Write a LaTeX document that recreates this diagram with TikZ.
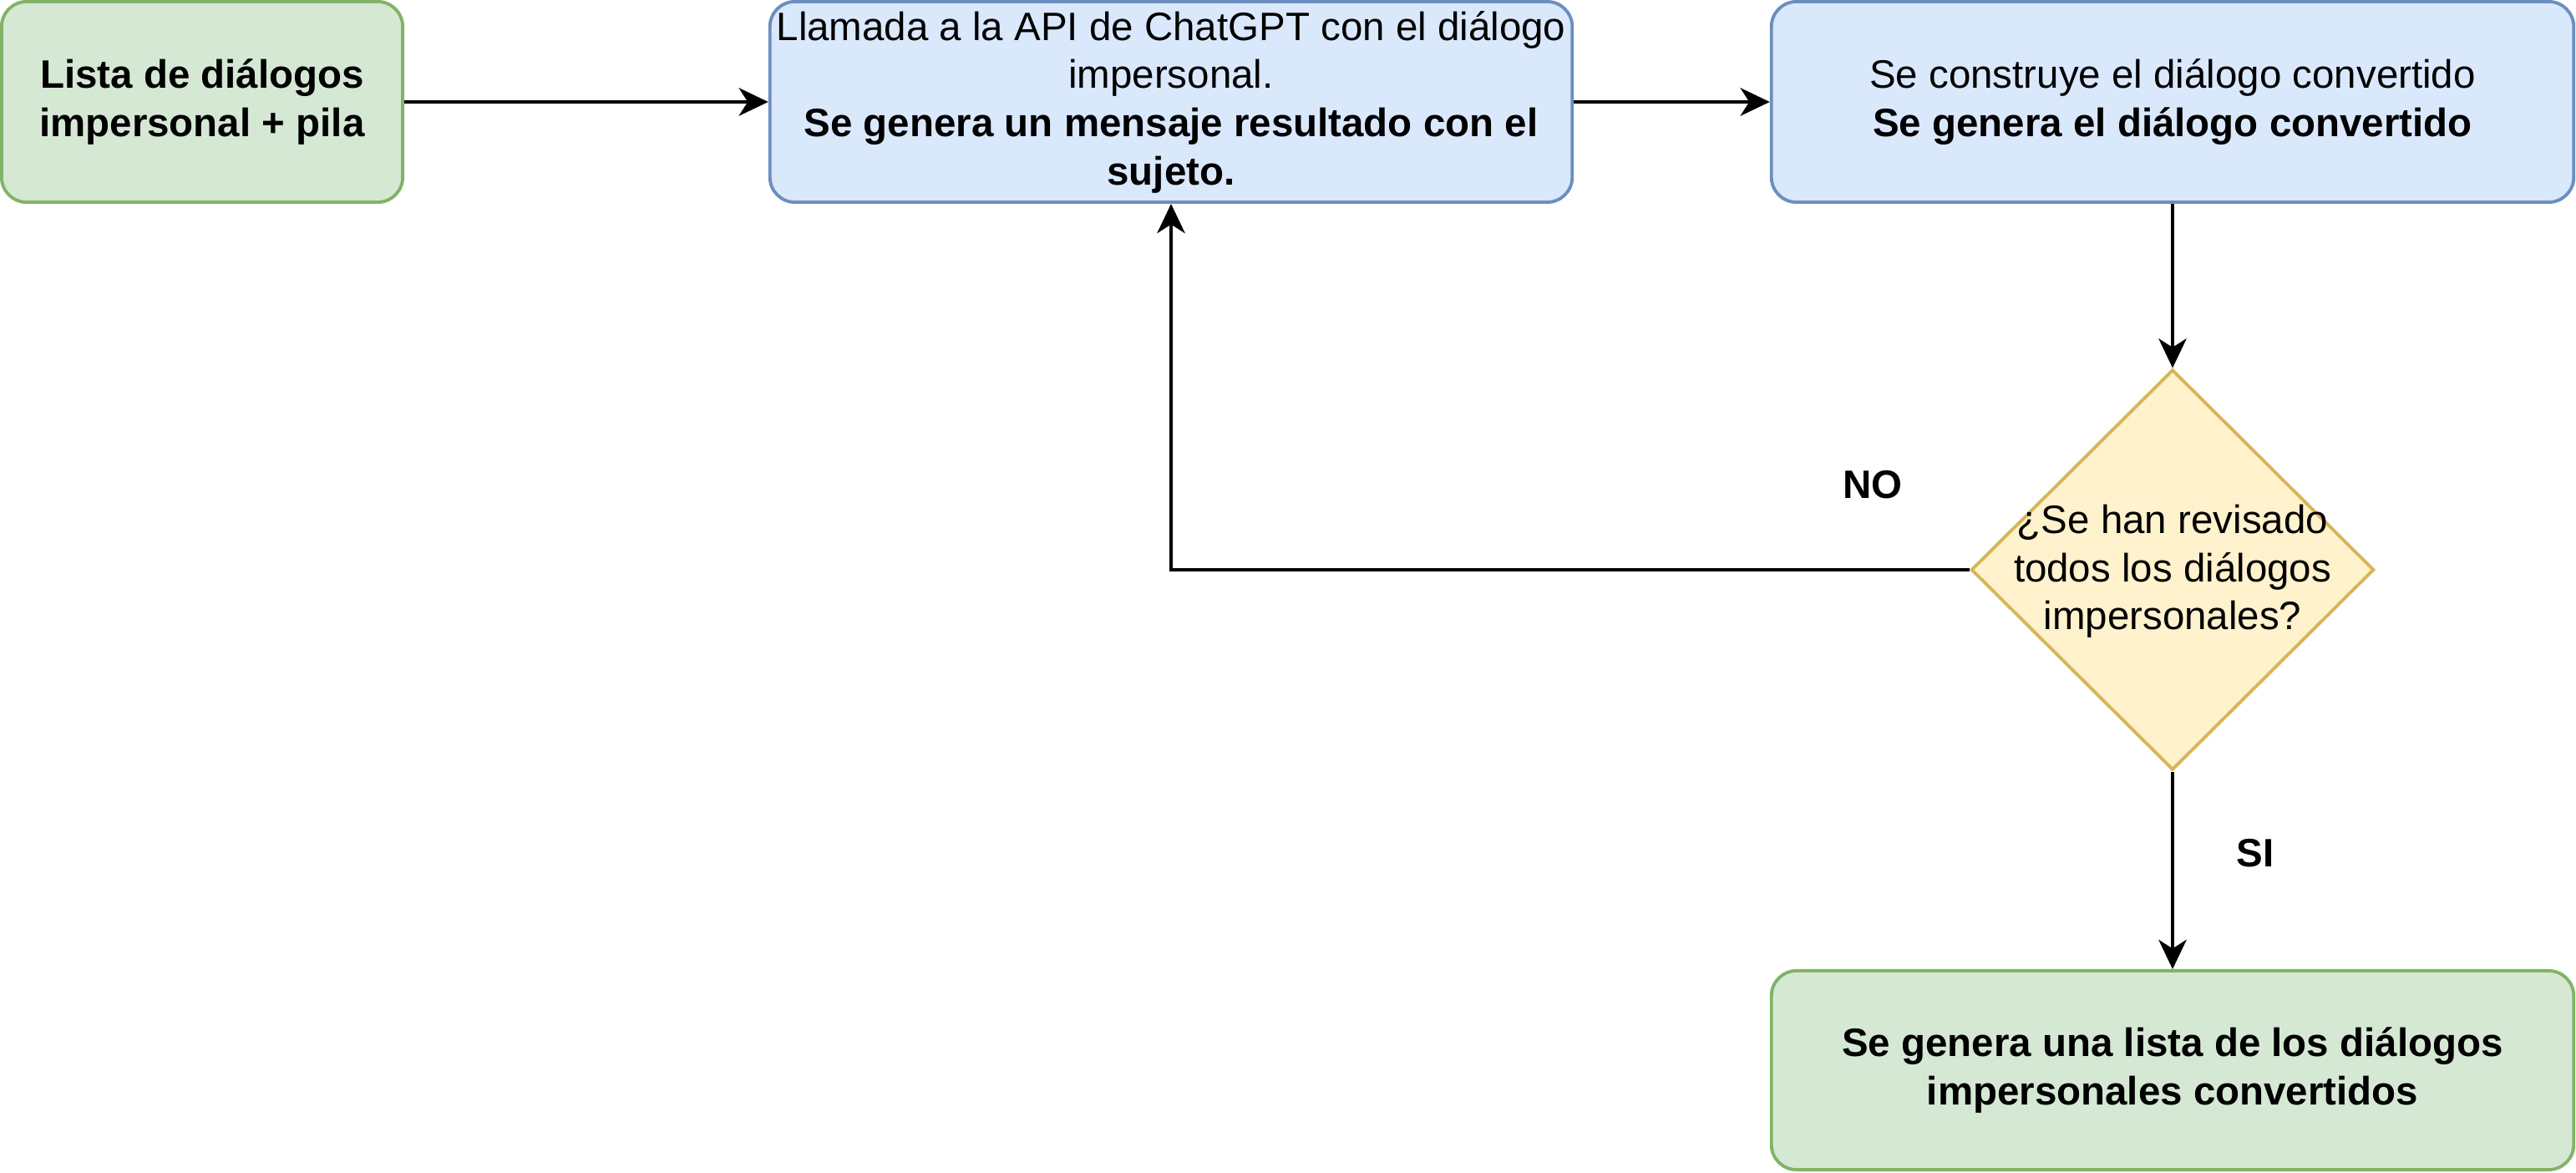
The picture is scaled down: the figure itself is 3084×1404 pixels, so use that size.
\documentclass[tikz,border=0pt]{standalone}
\usepackage{fontspec}
\setmainfont{Liberation Sans}
\usetikzlibrary{shapes.geometric,arrows.meta}
\definecolor{gfill}{HTML}{D5E8D4}
\definecolor{gline}{HTML}{82B366}
\definecolor{bfill}{HTML}{DAE8FC}
\definecolor{bline}{HTML}{6C8EBF}
\definecolor{yfill}{HTML}{FFF2CC}
\definecolor{yline}{HTML}{D6B656}
\begin{document}
\begin{tikzpicture}[x=0.01cm,y=-0.01cm,
  every node/.style={font=\fontsize{13.5pt}{16.4pt}\selectfont},
  greenbox/.style={draw=gline,fill=gfill,line width=1.1pt,rounded corners=0.3cm,inner sep=0pt,align=center},
  bluebox/.style={draw=bline,fill=bfill,line width=1.1pt,rounded corners=0.3cm,inner sep=0pt,align=center},
  decbox/.style={diamond,draw=yline,fill=yfill,line width=1.1pt,inner sep=0pt,minimum width=4.82cm,minimum height=4.79cm},
  conn/.style={line width=1.1pt,-{Stealth[length=10pt,width=9.5pt,inset=3pt]}},
  lbl/.style={font=\fontsize{13.5pt}{16pt}\selectfont\bfseries}
]
\useasboundingbox (0,0) rectangle (3084,1404);
\node[greenbox,minimum width=4.80cm,minimum height=2.40cm] (b1) at (242,122)
  {\textbf{Lista de diálogos}\\\textbf{impersonal + pila}};
\node[bluebox,minimum width=9.60cm,minimum height=2.40cm] (b2) at (1402,122)
  {Llamada a la API de ChatGPT con el diálogo\\impersonal.\\\textbf{Se genera un mensaje resultado con el}\\\textbf{sujeto.}};
\node[bluebox,minimum width=9.60cm,minimum height=2.40cm] (b3) at (2601,122)
  {Se construye el diálogo convertido\\\textbf{Se genera el diálogo convertido}};
\node[decbox] (d) at (2601,682) {};
\node[align=center,inner sep=0pt] (dt) at (2601,684)
  {¿Se han revisado\\todos los diálogos\\impersonales?};
\node[greenbox,minimum width=9.60cm,minimum height=2.38cm] (b4) at (2601,1281)
  {\textbf{Se genera una lista de los diálogos}\\\textbf{impersonales convertidos}};
\node[lbl] (no) at (2242,580) {NO};
\node[lbl] (si) at (2700,1021) {SI};
\draw[conn] (b1.east) -- (b2.west);
\draw[conn] (b2.east) -- (b3.west);
\draw[conn] (b3.south) -- (d.north);
\draw[conn] (d.south) -- (b4.north);
\draw[conn] (d.west) -| (b2.south);
\end{tikzpicture}
\end{document}
